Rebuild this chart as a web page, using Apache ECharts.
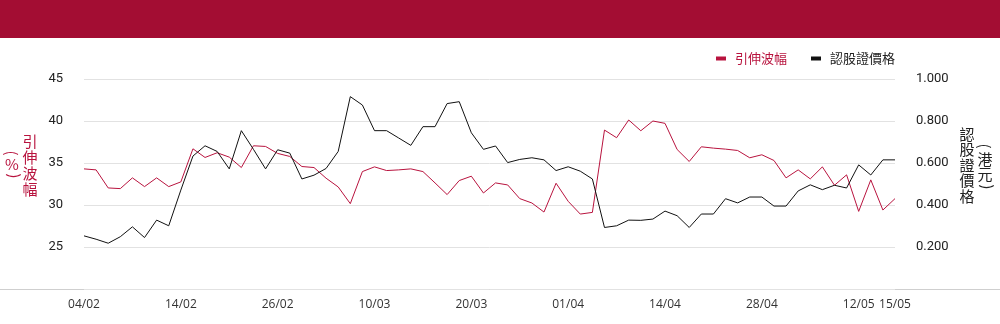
<!DOCTYPE html>
<html><head><meta charset="utf-8">
<script src="https://cdn.jsdelivr.net/npm/echarts@6/dist/echarts.min.js"></script>
<style>html,body{margin:0;padding:0;background:#fff}#c{width:1000px;height:324px}</style>
</head><body><div id="c"></div>
<script>
var dates = ['04/02','05/02','06/02','07/02','10/02','11/02','12/02','13/02','14/02','17/02','18/02','19/02','20/02','21/02','24/02','25/02','26/02','27/02','28/02',
'03/03','04/03','05/03','06/03','07/03','10/03','11/03','12/03','13/03','14/03','17/03','18/03','19/03','20/03','21/03','24/03','25/03','26/03','27/03','28/03','31/03',
'01/04','02/04','03/04','07/04','08/04','09/04','10/04','11/04','14/04','15/04','16/04','17/04','22/04','23/04','24/04','25/04','28/04','29/04','30/04',
'02/05','06/05','07/05','08/05','09/05','12/05','13/05','14/05','15/05'];
var vol = [34.30,34.18,32.03,31.95,33.23,32.19,33.23,32.19,32.75,36.69,35.66,36.22,35.70,34.46,37.05,36.97,36.14,35.78,34.58,34.46,33.19,32.15,30.16,33.98,34.54,
34.10,34.18,34.30,33.98,32.63,31.24,32.91,33.43,31.43,32.63,32.39,30.76,30.24,29.16,32.59,30.44,28.92,29.12,38.92,38.01,40.12,38.84,40.00,
39.72,36.61,35.18,36.93,36.77,36.65,36.49,35.62,35.98,35.30,33.23,34.18,33.11,34.54,32.35,33.59,29.24,32.99,29.40,30.76];
var price = [0.253,0.237,0.218,0.249,0.296,0.245,0.328,0.301,0.471,0.633,0.682,0.655,0.572,0.754,0.665,0.572,0.663,0.647,0.524,0.542,0.574,0.655,0.916,0.876,0.754,
0.754,0.719,0.684,0.773,0.773,0.883,0.892,0.744,0.665,0.681,0.602,0.617,0.625,0.615,0.564,0.582,0.561,0.524,0.293,0.301,0.328,0.327,0.333,
0.371,0.349,0.293,0.357,0.357,0.430,0.410,0.438,0.438,0.395,0.395,0.467,0.496,0.473,0.494,0.481,0.591,0.543,0.615,0.615];
var volName = '引伸波幅';
var priceName = '認股證價格';
var RED = '#b8133e';
var chart = echarts.init(document.getElementById('c'));
var font = "'Noto Sans CJK TC','Noto Sans',sans-serif";
var cjk = "15px 'Noto Sans CJK TC'";
function vtext(chars, x, y0, step, color) {
  return chars.map(function(ch, k){
    return {type: 'text', x: x, y: y0 + k * step, style: {text: ch, fill: color, font: cjk, align: 'center', verticalAlign: 'middle'}};
  });
}
function bracket(x, y, color, rot) {
  return {type: 'text', x: x, y: y, rotation: rot, style: {text: '(', fill: color, font: "15px 'Noto Sans CJK TC'", align: 'center', verticalAlign: 'middle'}};
}
var graphics = [
  {type: 'rect', left: 0, top: 0, shape: {width: 1000, height: 38}, style: {fill: '#a30d33'}},
  {type: 'line', shape: {x1: 0, y1: 289.5, x2: 1000, y2: 289.5}, style: {stroke: '#cfcfcf', lineWidth: 1}}
];
graphics = graphics.concat(vtext(['引','伸','波','幅'], 30, 141, 16, RED));
graphics.push(bracket(12, 153, RED, -Math.PI/2));
graphics = graphics.concat(vtext(['%'], 12, 164, 16, RED));
graphics.push(bracket(12, 176, RED, Math.PI/2));
graphics = graphics.concat(vtext(['認','股','證','價','格'], 967, 134, 15.5, '#222'));
graphics.push(bracket(985, 146, '#222', -Math.PI/2));
graphics = graphics.concat(vtext(['港','元'], 985, 159, 15.5, '#222'));
graphics.push(bracket(985, 187, '#222', Math.PI/2));

chart.setOption({
  animation: false,
  textStyle: {fontFamily: font},
  grid: {left: 84, right: 105, top: 79, bottom: 35},
  legend: {
    right: 105, top: 52, padding: 0, itemWidth: 10, itemHeight: 4, itemGap: 24, icon: 'rect',
    textStyle: {fontSize: 13, fontFamily: font, color: '#222', padding: [0, 0, 0, 4]},
    data: [{name: volName, textStyle: {color: RED}}, {name: priceName}]
  },
  xAxis: {
    type: 'category', data: dates, boundaryGap: false,
    axisLine: {show: false}, axisTick: {show: false},
    axisLabel: {interval: function(i){return i % 8 === 0 || i === dates.length - 1;}, color: '#333', fontSize: 12, margin: 10, fontFamily: "'Open Sans',sans-serif"}
  },
  yAxis: [
    {type: 'value', min: 20, max: 45, interval: 5,
     axisLine: {show: false}, axisTick: {show: false},
     axisLabel: {showMinLabel: false, color: '#222', fontSize: 13, margin: 21, fontFamily: "Roboto,sans-serif"},
     splitLine: {lineStyle: {color: '#e2e2e2', width: 1}}},
    {type: 'value', min: 0, max: 1, interval: 0.2,
     axisLine: {show: false}, axisTick: {show: false},
     axisLabel: {showMinLabel: false, color: '#222', fontSize: 13, margin: 21, fontFamily: "Roboto,sans-serif",
       formatter: function(v){return v.toFixed(3);}},
     splitLine: {show: false}}
  ],
  series: [
    {name: volName, type: 'line', data: vol, yAxisIndex: 0, symbol: 'none', color: RED, lineStyle: {width: 1, color: RED}},
    {name: priceName, type: 'line', data: price, yAxisIndex: 1, symbol: 'none', color: '#111', lineStyle: {width: 1, color: '#111'}}
  ],
  graphic: graphics
});
</script></body></html>
